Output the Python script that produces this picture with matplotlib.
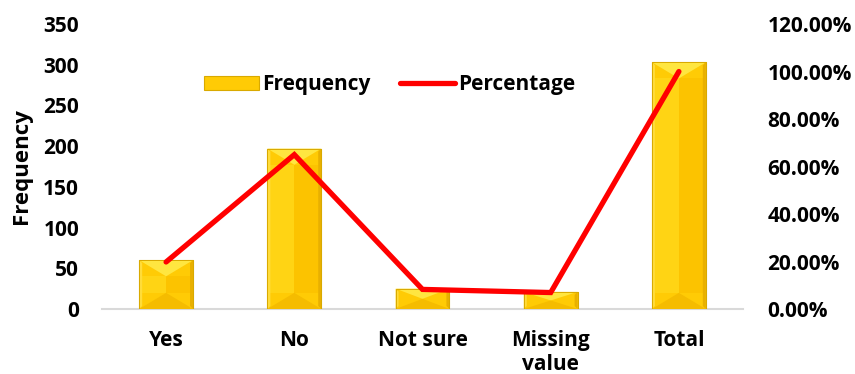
import matplotlib
matplotlib.use("Agg")
import matplotlib.pyplot as plt
from matplotlib.patches import Polygon, Patch
from matplotlib.lines import Line2D
from matplotlib.ticker import FuncFormatter, MultipleLocator

plt.rcParams["font.family"] = ["Open Sans", "DejaVu Sans"]
plt.rcParams["font.weight"] = "bold"

categories = ["Yes", "No", "Not sure", "Missing\nvalue", "Total"]
frequency = [60, 197, 25, 21, 303]
percentage = [0.198, 0.650, 0.0825, 0.0693, 1.00]

GOLD = "#FFCB05"
LEFT_FACE = "#FFD414"
RIGHT_FACE = "#FCC300"
TOP_FACE = "#FFE640"
BOTTOM_FACE = "#F5BC00"
EDGE = "#D9A900"
FS = 15

fig = plt.figure(figsize=(8.55, 3.74), dpi=100)
ax = fig.add_axes([0.1193, 0.1738, 0.7497, 0.762])
x = list(range(len(categories)))

ax.set_xlim(-0.5, len(categories) - 0.5)
ax.set_ylim(0, 350)
ax.yaxis.set_major_locator(MultipleLocator(50))

bars = ax.bar(x, frequency, width=0.42, color=GOLD, edgecolor=EDGE,
              linewidth=0.8, zorder=2)

# bevelled faces on every bar, built from each bar's own geometry
to_px = ax.transData
to_data = ax.transData.inverted()
for b in bars:
    x0, y0 = b.get_x(), b.get_y()
    x1, y1 = x0 + b.get_width(), y0 + b.get_height()
    (px0, py0), (px1, py1) = to_px.transform([(x0, y0), (x1, y1)])
    wpx, hpx = px1 - px0, py1 - py0
    d = min(0.3 * wpx, hpx / 2)
    cx = (px0 + px1) / 2
    faces = [
        ([(px0, py0 + d), (cx, py0 + d), (cx, py1 - d), (px0, py1 - d)], LEFT_FACE),
        ([(cx, py0 + d), (px1, py0 + d), (px1, py1 - d), (cx, py1 - d)], RIGHT_FACE),
        ([(px0, py1), (px1, py1), (cx, py1 - d)], TOP_FACE),
        ([(px0, py0), (px1, py0), (cx, py0 + d)], BOTTOM_FACE),
        ([(px0, py0), (px0, py1), (px0 + 3, py1 - 3), (px0 + 3, py0 + 3)], "#FFDC3A"),
        ([(px1, py0), (px1, py1), (px1 - 3, py1 - 3), (px1 - 3, py0 + 3)], "#E8B000"),
    ]
    for pts, col in faces:
        ax.add_patch(Polygon(to_data.transform(pts), closed=True, facecolor=col,
                             edgecolor="none", zorder=2.5))
    ax.add_patch(Polygon(to_data.transform([(px0, py0), (px1, py0), (px1, py1), (px0, py1)]),
                         closed=True, facecolor="none", edgecolor=EDGE,
                         linewidth=0.7, zorder=2.6))

for s in ["top", "right", "left"]:
    ax.spines[s].set_visible(False)
ax.spines["bottom"].set_color("#D9D9D9")
ax.spines["bottom"].set_linewidth(1.5)
ax.spines["bottom"].set_zorder(1)

ax.set_xticks(x)
ax.set_xticklabels(categories, fontsize=FS, fontweight="bold", linespacing=1.2)
ax.tick_params(axis="x", length=0, pad=15)
ax.tick_params(axis="y", length=0, pad=16.5, labelsize=FS)
for lbl in ax.get_yticklabels():
    lbl.set_fontweight("bold")
ax.set_ylabel("Frequency", fontsize=16, fontweight="bold", labelpad=8)

ax2 = ax.twinx()
ax2.set_ylim(0, 1.2)
ax2.yaxis.set_major_locator(MultipleLocator(0.2))
ax2.yaxis.set_major_formatter(FuncFormatter(lambda v, _: f"{v * 100:.2f}%"))
ax2.tick_params(axis="y", length=0, pad=17.5, labelsize=FS)
for lbl in ax2.get_yticklabels():
    lbl.set_fontweight("bold")
for s in ax2.spines.values():
    s.set_visible(False)

ax2.plot(x, percentage, color="#FF0000", linewidth=3.8,
         solid_capstyle="round", solid_joinstyle="miter", zorder=3)

handles = [
    Patch(facecolor=GOLD, edgecolor=EDGE, linewidth=0.8),
    Line2D([0], [0], color="#FF0000", linewidth=3.8, solid_capstyle="round"),
]
ax2.legend(handles, ["Frequency", "Percentage"], loc="center",
           bbox_to_anchor=(0.449, 0.787), ncol=2, frameon=False,
           prop={"size": FS, "weight": "bold"}, handlelength=2.64,
           handletextpad=0.15, columnspacing=1.4)

fig.savefig("out.png", dpi=100)
